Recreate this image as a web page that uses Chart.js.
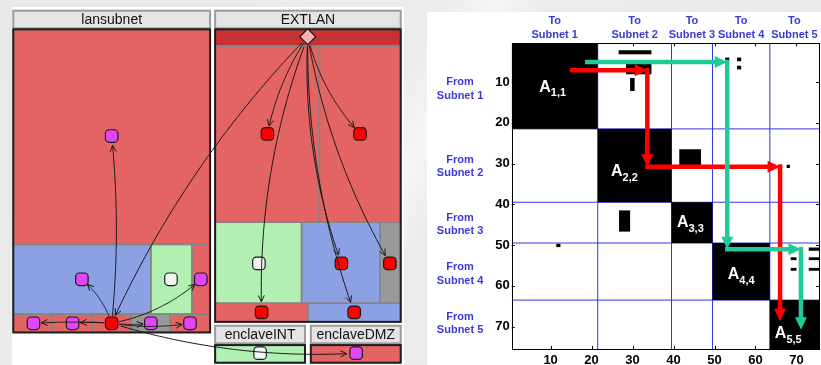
<!DOCTYPE html>
<html>
<head>
<meta charset="utf-8">
<script src="https://cdn.jsdelivr.net/npm/chart.js@4.4.1/dist/chart.umd.min.js"></script>
<style>
  html, body { margin: 0; padding: 0; width: 821px; height: 365px; overflow: hidden; }
  body {
    position: relative;
    background: linear-gradient(118deg, #e8e8e8 0%, #ececec 44%, #f5f5f5 49%, #ebebeb 54%, #e9e9e9 100%);
  }
  .panel { position: absolute; background: #fff; }
  #panelL { left: 12px; top: 7px; width: 392px; height: 358px; }
  #panelR { left: 427px; top: 12px; width: 394px; height: 353px; }
  canvas { position: absolute; top: 0; }
  #net { left: 0; }
  #mat { left: 427px; }
</style>
</head>
<body>
<div class="panel" id="panelL"></div>
<div class="panel" id="panelR"></div>
<canvas id="net" width="410" height="365"></canvas>
<canvas id="mat" width="394" height="365"></canvas>
<script>
const FONT = '"Liberation Sans", Arial, Helvetica, sans-serif';
Chart.defaults.font.family = FONT;

// ---------------- network map: subnet groups laid out as a treemap ----------------
const groupNames  = ['lansubnet', 'EXTLAN', 'enclaveINT', 'enclaveDMZ'];
const groupHeader = [[0, 0, 50.8, 5.0], [52.1, 0, 100, 5.0], [52.1, 89.5, 75.3, 94.5], [76.8, 89.5, 100, 94.5]];
const groupBody   = [[0, 5.3, 50.8, 91.4], [52.1, 5.3, 100, 88.4], [52.1, 95.0, 75.3, 100], [76.8, 95.0, 100, 100]];

// cells inside the groups: x0, y0, x1, y1, zone
const netCells = [
  [0, 5.3, 50.8, 66.4, 'red'],
  [0, 66.4, 35.5, 86.2, 'blue'],
  [35.5, 66.4, 46.1, 86.2, 'green'],
  [46.1, 66.4, 50.8, 86.2, 'red'],
  [0, 86.2, 10.1, 91.4, 'red'],
  [10.1, 86.2, 20.4, 91.4, 'red'],
  [20.4, 86.2, 30.4, 91.4, 'red'],
  [30.4, 86.2, 40.5, 91.4, 'gray'],
  [40.5, 86.2, 50.8, 91.4, 'red'],
  [52.1, 5.3, 100, 10.0, 'dark'],
  [52.1, 10.0, 79.0, 60.1, 'red'],
  [79.0, 10.0, 100, 60.1, 'red'],
  [52.1, 60.1, 74.4, 83.1, 'green'],
  [74.4, 60.1, 94.7, 83.1, 'blue'],
  [94.7, 60.1, 100, 83.1, 'gray'],
  [52.1, 83.1, 76.0, 88.4, 'red'],
  [76.0, 83.1, 100, 88.4, 'blue'],
  [52.1, 95.0, 75.3, 100, 'green'],
  [76.8, 95.0, 100, 100, 'red']
];
const zoneColor = { red: '#e46464', dark: '#c83232', blue: '#8ca0e4', green: '#b2efb2', gray: '#999999' };

// hosts
const nodeX    = [25.4, 17.7, 40.7, 48.4, 5.2, 15.3, 25.4, 35.5, 45.6, 76.0, 65.6, 89.5, 63.4, 84.7, 97.2, 64.1, 88.0, 63.7, 88.5];
const nodeY    = [35.6, 76.3, 76.3, 76.3, 88.8, 88.8, 88.8, 88.8, 88.8, 7.4, 35.0, 35.0, 71.8, 71.8, 71.8, 85.7, 85.7, 97.3, 97.3];
const nodeRole = ['host', 'host', 'idle', 'host', 'host', 'host', 'hit', 'host', 'host', 'entry',
                  'hit', 'hit', 'idle', 'hit', 'hit', 'hit', 'hit', 'idle', 'host'];
const roleColor = { host: '#e245f5', idle: '#f4f4f4', hit: '#ff0000', entry: '#f6b4b4' };

// attack edges (from node, to node, curvature)
const edgeFrom = [6, 6, 6, 6, 6, 6, 6, 6, 9, 9, 9, 9, 9, 9, 9];
const edgeTo   = [0, 1, 3, 4, 5, 7, 8, 18, 10, 11, 13, 16, 14, 15, 6];
const edgeBend = [-0.05, -0.14, -0.14, -0.03, -0.05, -0.06, -0.08, -0.09, -0.1, -0.13, -0.1, -0.09, -0.09, -0.1, -0.086];

function boxPx(s, b) {
  const x0 = s.x.getPixelForValue(b[0]), y0 = s.y.getPixelForValue(b[1]);
  const x1 = s.x.getPixelForValue(b[2]), y1 = s.y.getPixelForValue(b[3]);
  return [x0, y0, x1 - x0, y1 - y0];
}

const treemapPlugin = {
  id: 'treemap',
  beforeDatasetsDraw(chart) {
    const { ctx, scales } = chart;
    ctx.save();
    // headers
    groupHeader.forEach((h, i) => {
      const [x, y, w, hh] = boxPx(scales, h);
      ctx.fillStyle = '#e4e4e4';
      ctx.fillRect(x, y, w, hh);
      ctx.strokeStyle = '#9a9a9a';
      ctx.lineWidth = 2;
      ctx.strokeRect(x, y, w, hh);
      ctx.fillStyle = '#111';
      ctx.font = '14px ' + FONT;
      ctx.textAlign = 'center';
      ctx.textBaseline = 'middle';
      ctx.fillText(groupNames[i], x + w / 2, y + hh / 2 + 0.5);
    });
    // cells
    netCells.forEach(c => {
      const [x, y, w, h] = boxPx(scales, c);
      ctx.fillStyle = zoneColor[c[4]];
      ctx.fillRect(x, y, w, h);
    });
    ctx.strokeStyle = '#858585';
    ctx.lineWidth = 1.5;
    netCells.forEach(c => {
      const [x, y, w, h] = boxPx(scales, c);
      ctx.strokeRect(x, y, w, h);
    });
    // group outlines
    ctx.strokeStyle = '#1e1e1e';
    ctx.lineWidth = 2;
    groupBody.forEach(b => {
      const [x, y, w, h] = boxPx(scales, b);
      ctx.strokeRect(x, y, w, h);
    });
    ctx.restore();
  },
  afterDatasetsDraw(chart) {
    const { ctx, scales } = chart;
    ctx.save();
    ctx.strokeStyle = '#1a1a1a';
    ctx.lineWidth = 1;
    edgeFrom.forEach((a, k) => {
      const b = edgeTo[k];
      const p0 = [scales.x.getPixelForValue(nodeX[a]), scales.y.getPixelForValue(nodeY[a])];
      const p2 = [scales.x.getPixelForValue(nodeX[b]), scales.y.getPixelForValue(nodeY[b])];
      const dx = p2[0] - p0[0], dy = p2[1] - p0[1];
      const len = Math.hypot(dx, dy);
      const nx = dy / len, ny = -dx / len;
      const c = [(p0[0] + p2[0]) / 2 + nx * edgeBend[k] * len, (p0[1] + p2[1]) / 2 + ny * edgeBend[k] * len];
      const r0 = nodeRole[a] === 'entry' ? 8 : 7, r2 = 7.5;
      const pts = [];
      for (let i = 0; i <= 80; i++) {
        const t = i / 80, u = 1 - t;
        const px = u * u * p0[0] + 2 * u * t * c[0] + t * t * p2[0];
        const py = u * u * p0[1] + 2 * u * t * c[1] + t * t * p2[1];
        if (Math.hypot(px - p0[0], py - p0[1]) > r0 && Math.hypot(px - p2[0], py - p2[1]) > r2) pts.push([px, py]);
      }
      if (pts.length < 2) return;
      ctx.beginPath();
      ctx.moveTo(pts[0][0], pts[0][1]);
      pts.forEach(p => ctx.lineTo(p[0], p[1]));
      ctx.stroke();
      // open arrowhead
      const e = pts[pts.length - 1], q = pts[pts.length - 3] || pts[0];
      const ang = Math.atan2(e[1] - q[1], e[0] - q[0]);
      ctx.beginPath();
      ctx.moveTo(e[0] - 7 * Math.cos(ang - 0.45), e[1] - 7 * Math.sin(ang - 0.45));
      ctx.lineTo(e[0], e[1]);
      ctx.lineTo(e[0] - 7 * Math.cos(ang + 0.45), e[1] - 7 * Math.sin(ang + 0.45));
      ctx.stroke();
    });
    ctx.restore();
  }
};

new Chart(document.getElementById('net'), {
  type: 'scatter',
  data: {
    datasets: [{
      data: nodeX.map((x, i) => ({ x, y: nodeY[i] })),
      pointStyle: nodeRole.map(r => r === 'entry' ? 'rectRot' : 'rectRounded'),
      pointRadius: nodeRole.map(r => r === 'entry' ? 8 : 7.3),
      pointHoverRadius: nodeRole.map(r => r === 'entry' ? 8 : 7.3),
      backgroundColor: nodeRole.map(r => roleColor[r]),
      borderColor: '#1b1b1b',
      borderWidth: 1.2,
      clip: false
    }]
  },
  options: {
    responsive: false,
    animation: false,
    events: [],
    layout: { autoPadding: false, padding: { left: 13.3, right: 9.3, top: 10.7, bottom: 2.3 } },
    scales: {
      x: { type: 'linear', min: 0, max: 100, display: false },
      y: { type: 'linear', min: 0, max: 100, reverse: true, display: false }
    },
    plugins: { legend: { display: false }, tooltip: { enabled: false } }
  },
  plugins: [treemapPlugin]
});

// ---------------- reachability matrix ----------------
const subnetEdges  = [0.5, 21.5, 39.5, 49.5, 63.5, 75.5];
const xTickValues  = [10, 20, 30, 40, 50, 60, 70];
const yTickValues  = [10, 20, 30, 40, 50, 60, 70];
const toLabelPos   = [11, 30.5, 44.5, 56.5, 69.5];
const toLabels     = [['To', 'Subnet 1'], ['To', 'Subnet 2'], ['To', 'Subnet 3'], ['To', 'Subnet 4'], ['To', 'Subnet 5']];
const fromLabelPos = [11.7, 30.7, 45.0, 57.1, 69.3];
const fromLabels   = [['From', 'Subnet 1'], ['From', 'Subnet 2'], ['From', 'Subnet 3'], ['From', 'Subnet 4'], ['From', 'Subnet 5']];

// off-diagonal nonzero entries: col0, col1, row0, row1
const flowMarks = [
  [26.6, 34.6, 2.2, 3.2],
  [28.4, 34.6, 5.3, 8.1],
  [29.4, 30.5, 9.0, 12.2],
  [52.6, 53.6, 4.0, 4.9],
  [55.5, 56.5, 4.0, 4.9],
  [55.5, 56.5, 6.0, 6.9],
  [41.4, 46.7, 26.5, 30.5],
  [65.5, 66.5, 30.3, 31.0],
  [67.6, 68.4, 30.3, 31.1],
  [26.7, 29.4, 41.5, 46.7],
  [11.4, 12.4, 49.7, 50.5],
  [68.6, 70.0, 50.6, 51.4],
  [73.0, 75.5, 50.6, 51.4],
  [68.6, 70.0, 53.0, 53.7],
  [73.0, 75.5, 53.0, 53.7],
  [68.6, 70.0, 55.6, 56.3],
  [73.0, 75.5, 55.6, 56.3]
];

const blockSubs   = ['1,1', '2,2', '3,3', '4,4', '5,5'];
const blockLabelX = [10.5, 28.0, 44.1, 56.5, 68.0];
const blockLabelY = [11.3, 32.0, 44.5, 57.3, 71.7];

// propagation paths
const redPathX   = [14.7, 33.6, 33.6, 66.0, 66.0];
const redPathY   = [7.1, 7.1, 30.8, 30.8, 68.7];
const greenPathX = [18.4, 53.1, 53.1, 71.1, 71.1];
const greenPathY = [5.1, 5.1, 51.0, 51.0, 70.8];

function arrowSeg(ctx, x0, y0, x1, y1, color, back) {
  const len = Math.hypot(x1 - x0, y1 - y0);
  const ux = (x1 - x0) / len, uy = (y1 - y0) / len;
  const head = 12.5, half = 6;
  const sx = x0 - ux * back, sy = y0 - uy * back;
  const bx = x1 - ux * head, by = y1 - uy * head;
  ctx.strokeStyle = color;
  ctx.lineWidth = 4.5;
  ctx.lineCap = 'butt';
  ctx.beginPath();
  ctx.moveTo(sx, sy);
  ctx.lineTo(bx + ux, by + uy);
  ctx.stroke();
  ctx.fillStyle = color;
  ctx.beginPath();
  ctx.moveTo(x1, y1);
  ctx.lineTo(bx - uy * half, by + ux * half);
  ctx.lineTo(bx + uy * half, by - ux * half);
  ctx.closePath();
  ctx.fill();
}

const matrixPlugin = {
  id: 'matrix',
  beforeDatasetsDraw(chart) {
    const { ctx, chartArea: a, scales: { x, y } } = chart;
    ctx.save();
    ctx.beginPath();
    ctx.rect(a.left, a.top, a.width, a.height);
    ctx.clip();
    // subnet boundaries
    ctx.strokeStyle = '#3434e8';
    ctx.lineWidth = 1;
    subnetEdges.slice(1, -1).forEach(v => {
      const px = x.getPixelForValue(v), py = y.getPixelForValue(v);
      ctx.beginPath(); ctx.moveTo(px, a.top); ctx.lineTo(px, a.bottom); ctx.stroke();
      ctx.beginPath(); ctx.moveTo(a.left, py); ctx.lineTo(a.right, py); ctx.stroke();
    });
    const fillCell = (c0, c1, r0, r1) => {
      const px0 = x.getPixelForValue(c0), px1 = x.getPixelForValue(c1);
      const py0 = y.getPixelForValue(r0), py1 = y.getPixelForValue(r1);
      ctx.fillRect(Math.min(px0, px1), Math.min(py0, py1), Math.abs(px1 - px0), Math.abs(py1 - py0));
    };
    ctx.fillStyle = '#000';
    for (let i = 0; i < subnetEdges.length - 1; i++) {
      fillCell(subnetEdges[i], subnetEdges[i + 1], subnetEdges[i], subnetEdges[i + 1]);
    }
    flowMarks.forEach(m => fillCell(m[0], m[1], m[2], m[3]));
    ctx.restore();
  },
  afterDatasetsDraw(chart) {
    const { ctx, chartArea: a, scales: { x, y } } = chart;
    ctx.save();
    // paths
    [[redPathX, redPathY, '#ff0000'], [greenPathX, greenPathY, '#1ecb98']].forEach(([px, py, col]) => {
      for (let i = 0; i < px.length - 1; i++) {
        arrowSeg(ctx, x.getPixelForValue(px[i]), y.getPixelForValue(py[i]),
                 x.getPixelForValue(px[i + 1]), y.getPixelForValue(py[i + 1]), col, i === 0 ? 0 : 2.2);
      }
    });
    // block names
    ctx.fillStyle = '#fff';
    ctx.textAlign = 'left';
    ctx.textBaseline = 'middle';
    blockSubs.forEach((s, i) => {
      const cx = x.getPixelForValue(blockLabelX[i]), cy = y.getPixelForValue(blockLabelY[i]);
      ctx.font = 'bold 16px ' + FONT;
      const wA = ctx.measureText('A').width;
      ctx.font = 'bold 11px ' + FONT;
      const wS = ctx.measureText(s).width;
      const left = cx - (wA + wS) / 2;
      ctx.font = 'bold 16px ' + FONT;
      ctx.fillText('A', left, cy);
      ctx.font = 'bold 11px ' + FONT;
      ctx.fillText(s, left + wA, cy + 6);
    });
    // frame and inward ticks
    ctx.strokeStyle = '#000';
    ctx.lineWidth = 1;
    ctx.strokeRect(Math.round(a.left) + 0.5, Math.round(a.top) + 0.5, Math.round(a.width), Math.round(a.height));
    ctx.beginPath();
    xTickValues.forEach(v => {
      const p = Math.round(x.getPixelForValue(v)) + 0.5;
      ctx.moveTo(p, a.top); ctx.lineTo(p, a.top + 3);
      ctx.moveTo(p, a.bottom); ctx.lineTo(p, a.bottom - 3);
    });
    yTickValues.forEach(v => {
      const p = Math.round(y.getPixelForValue(v)) + 0.5;
      ctx.moveTo(a.left, p); ctx.lineTo(a.left + 3, p);
      ctx.moveTo(a.right, p); ctx.lineTo(a.right - 3, p);
    });
    ctx.stroke();
    ctx.restore();
  }
};

const tickFont  = { family: FONT, size: 13, weight: 'bold' };
const labelFont = { family: FONT, size: 11, weight: 'bold', lineHeight: 1.22 };
const labelBlue = '#3a3ad8';
const noGrid = { display: false, drawTicks: false };

new Chart(document.getElementById('mat'), {
  type: 'scatter',
  data: { datasets: [{ data: [], pointRadius: 0 }] },
  options: {
    responsive: false,
    animation: false,
    events: [],
    layout: { autoPadding: false, padding: { left: 0, right: 2, top: 0, bottom: 0 } },
    scales: {
      x: {
        type: 'linear', axis: 'x', position: 'bottom', min: 0.5, max: 75.5,
        grid: noGrid, border: { display: false },
        afterBuildTicks: s => { s.ticks = xTickValues.map(v => ({ value: v })); },
        afterFit: s => { s.height = 16; },
        ticks: { font: tickFont, color: '#000', padding: 4, autoSkip: false, maxRotation: 0, minRotation: 0 }
      },
      x2: {
        type: 'linear', axis: 'x', position: 'top', min: 0.5, max: 75.5,
        grid: noGrid, border: { display: false },
        afterBuildTicks: s => { s.ticks = toLabelPos.map(v => ({ value: v })); },
        afterFit: s => { s.height = 43.3; },
        ticks: { font: labelFont, color: labelBlue, padding: 2, autoSkip: false, maxRotation: 0, minRotation: 0,
                 callback: (v, i) => toLabels[i] }
      },
      y: {
        type: 'linear', axis: 'y', position: 'left', weight: 0, min: 0.5, max: 75.5, reverse: true,
        grid: noGrid, border: { display: false },
        afterBuildTicks: s => { s.ticks = yTickValues.map(v => ({ value: v })); },
        afterFit: s => { s.width = 28.4; },
        ticks: { font: tickFont, color: '#000', padding: 2, autoSkip: false }
      },
      y2: {
        type: 'linear', axis: 'y', position: 'left', weight: 1, min: 0.5, max: 75.5, reverse: true,
        grid: noGrid, border: { display: false },
        afterBuildTicks: s => { s.ticks = fromLabelPos.map(v => ({ value: v })); },
        afterFit: s => { s.width = 56.3; },
        ticks: { font: labelFont, color: labelBlue, padding: 0, autoSkip: false, crossAlign: 'center',
                 callback: (v, i) => fromLabels[i] }
      }
    },
    plugins: { legend: { display: false }, tooltip: { enabled: false } }
  },
  plugins: [matrixPlugin]
});
</script>
</body>
</html>
